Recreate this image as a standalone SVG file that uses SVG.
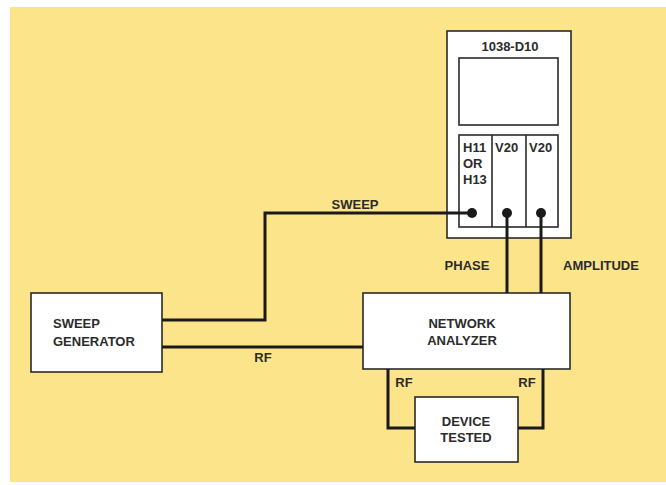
<svg xmlns="http://www.w3.org/2000/svg" width="666" height="485" viewBox="0 0 666 485">
<style>
.box{fill:#fff;stroke:#2a2a2a;stroke-width:1.6}
.t{font-family:"Liberation Sans",Arial,sans-serif;font-weight:bold;font-size:13px;fill:#2b2b2b}
.w{fill:none;stroke:#1a1a1a;stroke-width:3;stroke-linejoin:miter}
.dot{fill:#1a1a1a}
</style>
<rect x="0" y="0" width="666" height="485" fill="#fff"/>
<rect x="10" y="7" width="656" height="475" fill="#fce48a"/>
<g id="scope">
<rect class="box" x="447" y="31" width="124" height="207"/>
<text class="t" x="510" y="51" text-anchor="middle">1038-D10</text>
<rect class="box" x="459" y="58" width="99" height="67"/>
<rect class="box" x="459" y="135" width="99" height="92"/>
<line x1="492" y1="135" x2="492" y2="227" stroke="#2a2a2a" stroke-width="1.6"/>
<line x1="526" y1="135" x2="526" y2="227" stroke="#2a2a2a" stroke-width="1.6"/>
<text class="t" x="463" y="152">H11</text>
<text class="t" x="463" y="168">OR</text>
<text class="t" x="463" y="184">H13</text>
<text class="t" x="495" y="152">V20</text>
<text class="t" x="529" y="152">V20</text>
</g>
<g id="sweep-generator">
<rect class="box" x="31" y="293" width="131" height="79"/>
<text class="t" x="53" y="328">SWEEP</text>
<text class="t" x="53" y="346">GENERATOR</text>
</g>
<g id="network-analyzer">
<rect class="box" x="363" y="293" width="207" height="76"/>
<text class="t" x="462" y="328" text-anchor="middle">NETWORK</text>
<text class="t" x="462" y="345" text-anchor="middle">ANALYZER</text>
</g>
<g id="device-tested">
<rect class="box" x="415" y="397" width="103" height="65"/>
<text class="t" x="466" y="426" text-anchor="middle">DEVICE</text>
<text class="t" x="466" y="442" text-anchor="middle">TESTED</text>
</g>
<g id="connectors">
<polyline class="w" points="472,213 265,213 265,320 162,320"/>
<line class="w" x1="162" y1="347" x2="363" y2="347"/>
<line class="w" x1="507" y1="213" x2="507" y2="293"/>
<line class="w" x1="541" y1="213" x2="541" y2="293"/>
<polyline class="w" points="388,369 388,428 415,428"/>
<polyline class="w" points="543,369 543,428 518,428"/>
<circle class="dot" cx="472" cy="213" r="5"/>
<circle class="dot" cx="507" cy="213" r="5"/>
<circle class="dot" cx="541" cy="213" r="5"/>
<text class="t" x="355" y="209" text-anchor="middle">SWEEP</text>
<text class="t" x="263" y="362" text-anchor="middle">RF</text>
<text class="t" x="467" y="270" text-anchor="middle">PHASE</text>
<text class="t" x="601" y="270" text-anchor="middle">AMPLITUDE</text>
<text class="t" x="404" y="387" text-anchor="middle">RF</text>
<text class="t" x="527" y="387" text-anchor="middle">RF</text>
</g>
</svg>
